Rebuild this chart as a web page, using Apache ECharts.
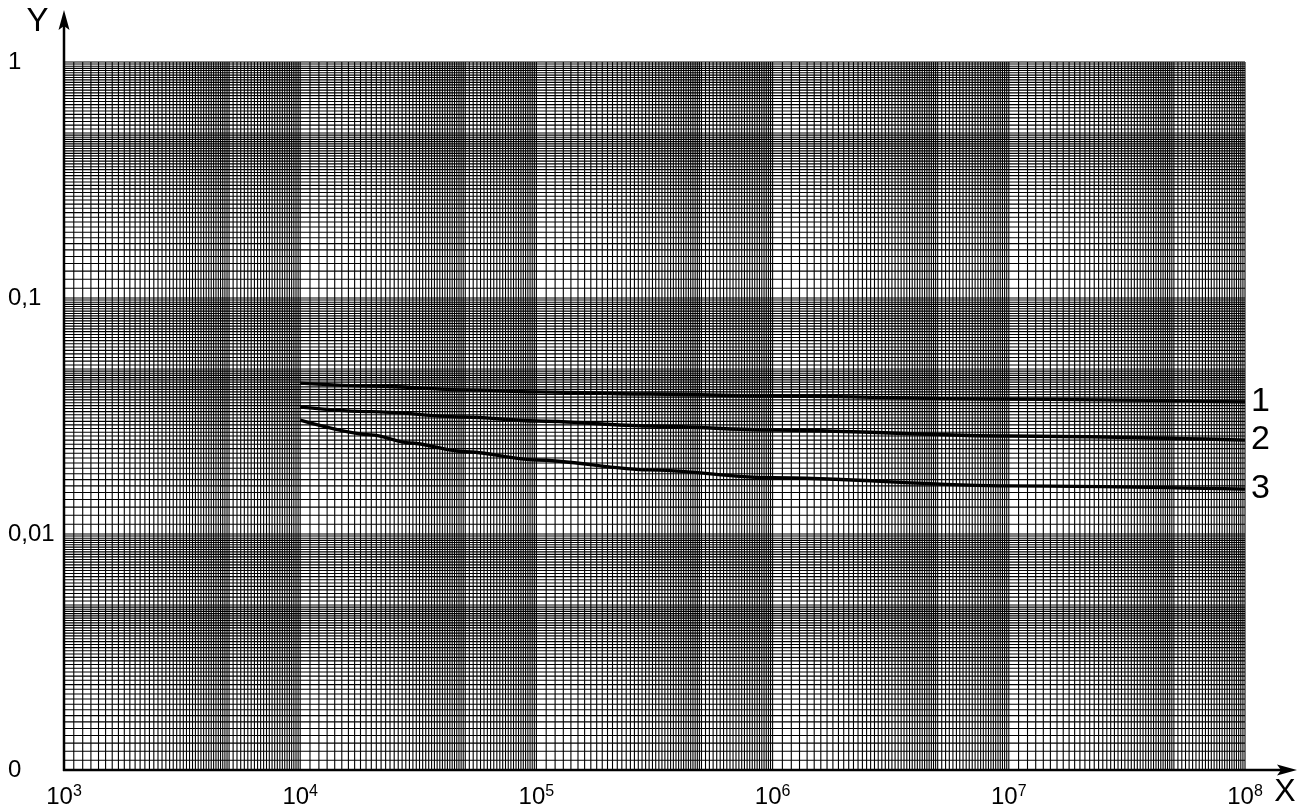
<!DOCTYPE html>
<html>
<head>
<meta charset="utf-8">
<title>Log-log chart</title>
<script src="https://cdn.jsdelivr.net/npm/echarts@6/dist/echarts.min.js"></script>
<style>
  html, body { margin: 0; padding: 0; background: #fff; }
  #chart { width: 1311px; height: 811px; }
</style>
</head>
<body>
<div id="chart"></div>
<script>
// Axis ranges (log scales)
const X_MIN = 1e3, X_MAX = 1e8;
const Y_MIN = 1e-3, Y_MAX = 1;

// Tick labels
const yTickLabels = { '-3': '0', '-2': '0,01', '-1': '0,1', '0': '1' };

// Curve names and samples: x values, then y values per curve
const curveNames = ['1', '2', '3'];
const curve1X = [1e4, 2e4, 5e4, 1e5, 3e5, 1e6, 1e7, 1e8];
const curve1Y = [0.0436, 0.0424, 0.0408, 0.0400, 0.0392, 0.0384, 0.0373, 0.0363];
const curve2X = [1e4, 2e4, 5e4, 1e5, 3e5, 1e6, 1e7, 1e8];
const curve2Y = [0.0345, 0.0330, 0.0313, 0.0301, 0.0287, 0.0276, 0.0260, 0.0250];
const curve3X = [1e4, 2e4, 2.9e4, 5e4, 1e5, 3e5, 1e6, 1e7, 1e8];
const curve3Y = [0.0304, 0.0263, 0.0243, 0.0223, 0.0206, 0.0187, 0.0173, 0.0160, 0.0155];

// Log-paper rulings: mantissas inside one decade (0.1 steps to 5, 0.2 steps to 10)
function decadeMantissas() {
  const m = [];
  for (let k = 10; k < 50; k++) m.push(k / 10);
  for (let k = 50; k < 100; k += 2) m.push(k / 10);
  return m;
}
const MANT = decadeMantissas();
const rulings = [];
for (let d = 3; d < 8; d++) MANT.forEach(m => rulings.push([m * Math.pow(10, d), 0.01, 0]));
rulings.push([X_MAX, 0.01, 0]);
for (let d = -3; d < 0; d++) MANT.forEach(m => rulings.push([1e4, m * Math.pow(10, d), 1]));
rulings.push([1e4, Y_MAX, 1]);

function pairs(xs, ys) { return xs.map((x, i) => [x, ys[i]]); }

const chart = echarts.init(document.getElementById('chart'), null, { renderer: 'canvas' });

const FONT = '"Liberation Sans", Arial, sans-serif';

function curveSeries(name, xs, ys) {
  return {
    type: 'line',
    name: name,
    data: pairs(xs, ys),
    smooth: 0.3,
    smoothMonotone: 'x',
    symbol: 'none',
    z: 5,
    lineStyle: { color: '#000', width: 3.4 },
    endLabel: {
      show: true,
      formatter: '{a}',
      color: '#000',
      fontFamily: FONT,
      fontSize: 34,
      distance: 6
    },
    animation: false
  };
}

const option = {
  backgroundColor: '#fff',
  animation: false,
  grid: { left: 64, right: 66, top: 62, bottom: 41, containLabel: false },
  xAxis: {
    type: 'log',
    logBase: 10,
    min: X_MIN,
    max: X_MAX,
    axisLine: { show: false },
    axisTick: { show: false },
    splitLine: { show: false },
    axisLabel: {
      margin: 14,
      formatter: function (v) {
        const e = Math.round(Math.log10(v));
        return '{b|10}{s|' + e + '}';
      },
      rich: {
        b: { fontFamily: FONT, fontSize: 24, color: '#000', lineHeight: 26 },
        s: { fontFamily: FONT, fontSize: 16, color: '#000', verticalAlign: 'top', lineHeight: 15 }
      }
    }
  },
  yAxis: {
    type: 'log',
    logBase: 10,
    min: Y_MIN,
    max: Y_MAX,
    axisLine: { show: false },
    axisTick: { show: false },
    splitLine: { show: false },
    axisLabel: {
      align: 'left',
      margin: 56,
      fontFamily: FONT,
      fontSize: 24,
      color: '#000',
      formatter: function (v) {
        return yTickLabels[String(Math.round(Math.log10(v)))];
      }
    }
  },
  series: [
    {
      type: 'custom',
      name: 'rulings',
      silent: true,
      z: 1,
      clip: false,
      encode: { x: 0, y: 1 },
      data: rulings,
      renderItem: function (params, api) {
        const o = api.value(2);
        let p1, p2;
        if (o === 0) {
          const v = api.value(0);
          p1 = api.coord([v, Y_MIN]);
          p2 = api.coord([v, Y_MAX]);
        } else {
          const v = api.value(1);
          p1 = api.coord([X_MIN, v]);
          p2 = api.coord([X_MAX, v]);
        }
        return {
          type: 'line',
          shape: { x1: p1[0], y1: p1[1], x2: p2[0], y2: p2[1] },
          style: { stroke: '#000', lineWidth: 1.1 }
        };
      }
    },
    curveSeries(curveNames[0], curve1X, curve1Y),
    curveSeries(curveNames[1], curve2X, curve2Y),
    curveSeries(curveNames[2], curve3X, curve3Y)
  ]
};

chart.setOption(option);

// Axes with arrowheads and axis letters, placed from the grid's corner
const o = chart.convertToPixel({ gridIndex: 0 }, [X_MIN, Y_MIN]);
const ox = o[0], oy = o[1];
const yTip = 10, xTip = 1297;

chart.setOption({
  graphic: [
    { type: 'line', z: 50, shape: { x1: ox, y1: oy + 1, x2: ox, y2: yTip + 10 }, style: { stroke: '#000', lineWidth: 2.5 } },
    { type: 'polygon', z: 51, shape: { points: [[ox, yTip], [ox - 5.5, yTip + 20], [ox, yTip + 16], [ox + 5.5, yTip + 20]] }, style: { fill: '#000' } },
    { type: 'line', z: 50, shape: { x1: ox - 1, y1: oy, x2: xTip - 10, y2: oy }, style: { stroke: '#000', lineWidth: 2.5 } },
    { type: 'polygon', z: 51, shape: { points: [[xTip, oy], [xTip - 20, oy - 5.5], [xTip - 16, oy], [xTip - 20, oy + 5.5]] }, style: { fill: '#000' } },
    { type: 'text', z: 52, x: 37.5, y: 22, style: { text: 'Y', font: '33px ' + FONT, fill: '#000', align: 'center', verticalAlign: 'middle' } },
    { type: 'text', z: 52, x: 1285, y: 792, style: { text: 'X', font: '32px ' + FONT, fill: '#000', align: 'center', verticalAlign: 'middle' } }
  ]
});
</script>
</body>
</html>
